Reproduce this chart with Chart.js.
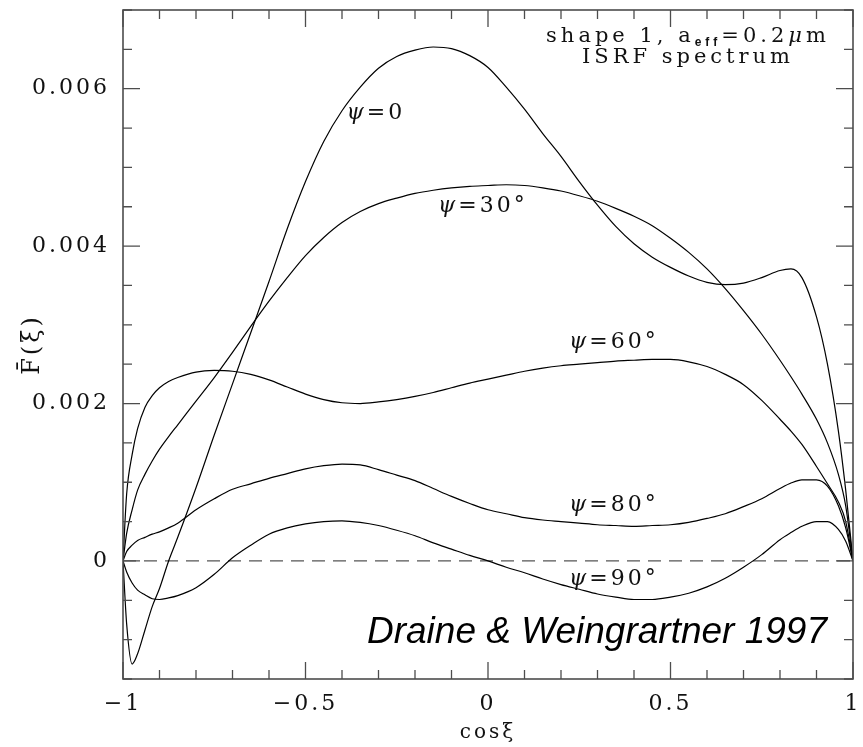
<!DOCTYPE html>
<html>
<head>
<meta charset="utf-8">
<script src="https://cdn.jsdelivr.net/npm/chart.js@4/dist/chart.umd.min.js"></script>
<style>
html, body { margin: 0; padding: 0; background: #fff; }
canvas { display: block; }
</style>
</head>
<body>
<canvas id="myChart" width="863" height="747"></canvas>
<script>
// cos(xi) sample points, shared by every curve
var cosXi = [-1, -0.99, -0.975, -0.96, -0.94, -0.92, -0.9, -0.875, -0.85, -0.8, -0.75, -0.7, -0.65,
  -0.6, -0.55, -0.5, -0.45, -0.4, -0.35, -0.3, -0.25, -0.2, -0.15, -0.1, -0.05, 0, 0.05, 0.1,
  0.15, 0.2, 0.25, 0.3, 0.35, 0.4, 0.45, 0.5, 0.55, 0.6, 0.65, 0.7, 0.75, 0.8, 0.83, 0.86,
  0.9, 0.93, 0.96, 0.98, 1];

// F(xi), in units of 1e-3
var psi0 = [0, -0.8, -1.31, -1.18, -0.88, -0.58, -0.35, 0, 0.3, 0.93, 1.6, 2.25, 2.9,
  3.55, 4.22, 4.82, 5.33, 5.72, 6.02, 6.26, 6.41, 6.49, 6.53, 6.51, 6.42, 6.27, 6.02, 5.74,
  5.43, 5.14, 4.82, 4.52, 4.25, 4.03, 3.86, 3.73, 3.62, 3.54, 3.51, 3.53, 3.6, 3.69, 3.71, 3.6,
  3.1, 2.5, 1.65, 0.9, 0];
var psi30 = [0, 0.35, 0.65, 0.9, 1.1, 1.27, 1.42, 1.58, 1.73, 2.03, 2.33, 2.65, 2.98,
  3.3, 3.6, 3.88, 4.11, 4.3, 4.44, 4.54, 4.61, 4.67, 4.71, 4.74, 4.76, 4.77, 4.78, 4.77,
  4.74, 4.7, 4.64, 4.57, 4.48, 4.38, 4.26, 4.1, 3.92, 3.71, 3.46, 3.18, 2.88, 2.55, 2.34, 2.12,
  1.8, 1.5, 1.1, 0.7, 0];
var psi60 = [0, 0.85, 1.35, 1.68, 1.95, 2.1, 2.2, 2.28, 2.33, 2.4, 2.42, 2.41, 2.37,
  2.3, 2.21, 2.12, 2.05, 2.01, 2.0, 2.02, 2.05, 2.09, 2.14, 2.2, 2.26, 2.31, 2.36, 2.41,
  2.45, 2.48, 2.5, 2.52, 2.54, 2.55, 2.56, 2.56, 2.53, 2.47, 2.37, 2.24, 2.04, 1.8, 1.65, 1.48,
  1.2, 0.98, 0.75, 0.5, 0];
var psi80 = [0, 0.12, 0.2, 0.26, 0.3, 0.34, 0.37, 0.42, 0.48, 0.65, 0.79, 0.91, 0.98,
  1.05, 1.11, 1.17, 1.21, 1.23, 1.22, 1.16, 1.09, 1.02, 0.92, 0.82, 0.73, 0.65, 0.6, 0.55,
  0.52, 0.5, 0.48, 0.46, 0.45, 0.44, 0.45, 0.46, 0.49, 0.54, 0.6, 0.69, 0.79, 0.92, 0.99, 1.03,
  1.03, 0.95, 0.7, 0.42, 0];
var psi90 = [0, -0.14, -0.28, -0.37, -0.43, -0.48, -0.49, -0.47, -0.44, -0.34, -0.17, 0.04, 0.2,
  0.34, 0.42, 0.47, 0.5, 0.51, 0.49, 0.45, 0.39, 0.32, 0.23, 0.15, 0.07, 0, -0.08, -0.15,
  -0.23, -0.3, -0.36, -0.42, -0.46, -0.49, -0.49, -0.46, -0.41, -0.33, -0.22, -0.08, 0.08, 0.27, 0.36, 0.44,
  0.5, 0.5, 0.4, 0.25, 0];

var zeroLineX = [-1, 1];
var zeroLineY = [0, 0];

var xTickValues = [-1, -0.5, 0, 0.5, 1];
var xTickLabels = ['\u22121', '\u22120.5', '0', '0.5', '1'];
var yTickValues = [0, 0.002, 0.004, 0.006];
var yTickLabels = ['0', '0.002', '0.004', '0.006'];

var curveLabels = ['0', '30\u00b0', '60\u00b0', '80\u00b0', '90\u00b0'];

var serif = '"DejaVu Serif", serif';

function curve(ys) {
  return cosXi.map(function (c, i) { return { x: c, y: ys[i] * 1e-3 }; });
}

function line(data, dash) {
  return {
    data: data,
    borderColor: dash ? '#555' : '#000',
    borderWidth: 1.2,
    borderDash: dash ? [13, 8] : [],
    pointRadius: 0,
    showLine: true,
    fill: false,
    cubicInterpolationMode: 'monotone'
  };
}

// label spots, in data coords (cos xi, F)
var labelSpots = [[-0.307, 0.00569], [-0.014, 0.00451], [0.345, 0.00278], [0.345, 0.00071], [0.345, -0.00023]];

function drawPieces(c, pieces, x0, y) {
  var x = x0;
  pieces.forEach(function (p) {
    c.font = p.font;
    c.fillText(p.text, x, y + (p.dy || 0));
    x += c.measureText(p.text).width + (p.gap || 0);
  });
}
function piecesWidth(c, pieces) {
  var w = 0;
  pieces.forEach(function (p) { c.font = p.font; w += c.measureText(p.text).width + (p.gap || 0); });
  return w;
}

function noPad(s) {
  s.paddingLeft = 0; s.paddingRight = 0; s.paddingTop = 0; s.paddingBottom = 0;
}

var spacing = {
  id: 'spacing',
  beforeInit: function (chart) { chart.ctx.letterSpacing = '3px'; },
  beforeDraw: function (chart) { chart.ctx.letterSpacing = '3px'; }
};

var frame = {
  id: 'frame',
  afterDraw: function (chart) {
    var c = chart.ctx, a = chart.chartArea, xs = chart.scales.x, ys = chart.scales.y;
    c.save();
    c.strokeStyle = '#4d4d4d';
    c.lineWidth = 1.6;
    c.strokeRect(a.left, a.top, a.right - a.left, a.bottom - a.top);
    c.lineWidth = 1.3;
    c.beginPath();
    for (var i = -10; i <= 10; i++) {
      var px = xs.getPixelForValue(i / 10);
      var len = (i % 5 === 0) ? 17 : 9;
      c.moveTo(px, a.bottom); c.lineTo(px, a.bottom - len);
      c.moveTo(px, a.top); c.lineTo(px, a.top + len);
    }
    for (var j = -3; j <= 14; j++) {
      var py = ys.getPixelForValue(j * 0.0005);
      var l = (j % 4 === 0) ? 17 : 9;
      c.moveTo(a.left, py); c.lineTo(a.left + l, py);
      c.moveTo(a.right, py); c.lineTo(a.right - l, py);
    }
    c.stroke();

    c.fillStyle = '#111';
    c.textBaseline = 'middle';
    c.textAlign = 'left';
    c.letterSpacing = '3px';

    // curve labels
    curveLabels.forEach(function (t, k) {
      var pieces = [
        { text: '\u03c8', font: 'italic 22px ' + serif },
        { text: '=', font: '22px ' + serif },
        { text: t, font: '22px ' + serif }
      ];
      var w = piecesWidth(c, pieces);
      var cx = xs.getPixelForValue(labelSpots[k][0]);
      var cy = ys.getPixelForValue(labelSpots[k][1]);
      drawPieces(c, pieces, cx - w / 2, cy);
    });

    // top right note
    c.textBaseline = 'alphabetic';
    c.letterSpacing = '4px';
    var l1 = [
      { text: 'shape 1, a', font: '21px ' + serif },
      { text: 'eff', font: 'bold 12px "Liberation Sans", sans-serif', dy: 4 },
      { text: '=0.2', font: '21px ' + serif },
      { text: '\u03bc', font: 'italic 21px ' + serif },
      { text: 'm', font: '21px ' + serif }
    ];
    var w1 = piecesWidth(c, l1);
    drawPieces(c, l1, 688 - w1 / 2, 42);
    c.font = '21px ' + serif;
    c.textAlign = 'center';
    c.fillText('ISRF spectrum', 688, 63);

    // credit
    c.letterSpacing = '0px';
    c.textAlign = 'right';
    c.font = 'italic 37px "Liberation Sans", sans-serif';
    c.fillStyle = '#000';
    c.fillText('Draine & Weingrartner 1997', 827, 643);
    c.restore();
  }
};

var ctx = document.getElementById('myChart').getContext('2d');
var chart = new Chart(ctx, {
  type: 'scatter',
  data: {
    datasets: [
      line(curve(psi0)), line(curve(psi30)), line(curve(psi60)), line(curve(psi80)), line(curve(psi90)),
      line(zeroLineX.map(function (x, i) { return { x: x, y: zeroLineY[i] }; }), true)
    ]
  },
  options: {
    responsive: false,
    animation: false,
    layout: { padding: { top: 10, right: 10, left: 0, bottom: 0 } },
    plugins: { legend: { display: false }, tooltip: { enabled: false } },
    scales: {
      x: {
        type: 'linear', min: -1, max: 1,
        grid: { display: false, drawTicks: false, tickLength: 0 },
        border: { display: false },
        afterBuildTicks: function (s) { s.ticks = xTickValues.map(function (v) { return { value: v }; }); },
        afterFit: function (s) { s.height = 68; noPad(s); },
        ticks: {
          autoSkip: false, maxRotation: 0, padding: 12, color: '#111',
          font: { family: serif, size: 22 },
          callback: function (v) { return xTickLabels[xTickValues.indexOf(v)]; }
        },
        title: { display: true, text: 'cos\u03be', color: '#111', font: { family: serif, size: 20 }, padding: { top: 0, bottom: 2 } }
      },
      y: {
        type: 'linear', min: -0.0015, max: 0.007,
        grid: { display: false, drawTicks: false, tickLength: 0 },
        border: { display: false },
        afterBuildTicks: function (s) { s.ticks = yTickValues.map(function (v) { return { value: v }; }); },
        afterFit: function (s) { s.width = 123; noPad(s); },
        ticks: {
          autoSkip: false, padding: 13, color: '#111',
          font: { family: serif, size: 22 },
          callback: function (v) { return yTickLabels[yTickValues.indexOf(v)]; }
        },
        title: { display: true, text: 'F\u0304(\u03be)', color: '#111', font: { family: serif, size: 24 }, padding: { top: 18, bottom: 0 } }
      }
    }
  },
  plugins: [spacing, frame]
});
</script>
</body>
</html>
